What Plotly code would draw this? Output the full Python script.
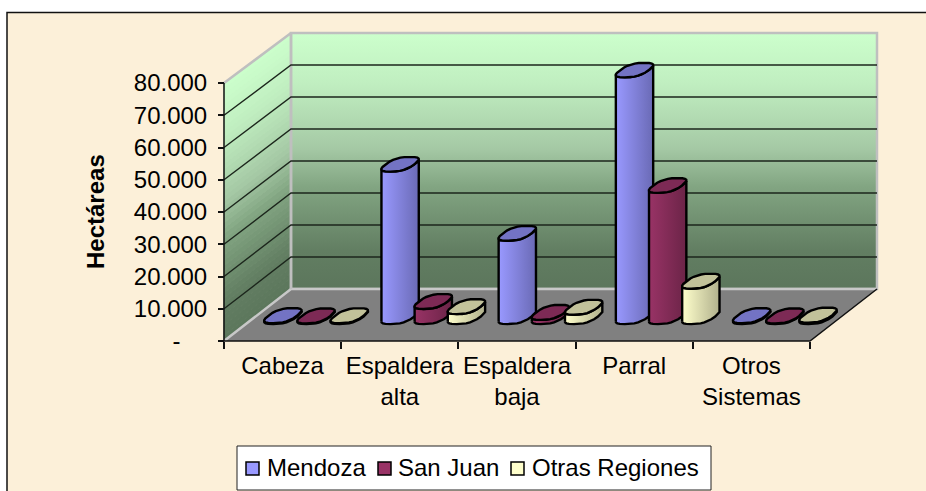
import math
import plotly.graph_objects as go

categories = ["Cabeza", "Espaldera<br>alta", "Espaldera<br>baja", "Parral", "Otros<br>Sistemas"]
mendoza = [300, 47400, 25900, 76700, 300]
san_juan = [200, 4700, 1300, 40800, 200]
otras = [250, 3100, 2900, 11000, 450]
series_names = ["Mendoza", "San Juan", "Otras Regiones"]
value_ticks = [0, 10000, 20000, 30000, 40000, 50000, 60000, 70000, 80000]
value_labels = ["-\u00a0\u00a0\u00a0\u00a0", "10.000", "20.000", "30.000", "40.000", "50.000", "60.000", "70.000", "80.000"]

W, H = 926, 491
X0, PX_CAT = 224.0, 117.2
Y0, PX_VAL = 341.0, 258.0 / 80000
DEPTH_DX = 67.0 / PX_CAT
DEPTH_DY = 52.0 / PX_VAL
FONT = "Liberation Sans, Arial, sans-serif"
INK = "#111111"
WALL_STOPS = [(0, (92, 118, 92)), (0.15, (98, 126, 98)), (0.4, (130, 165, 130)),
              (0.55, (165, 201, 165)), (0.8, (192, 238, 192)), (1, (204, 255, 204))]


def proj(cat, val, d=0.0):
    return cat + DEPTH_DX * d, val * (1 - 0.0078 * d) + DEPTH_DY * d


def wall_colour(t):
    for (t0, c0), (t1, c1) in zip(WALL_STOPS, WALL_STOPS[1:]):
        if t <= t1:
            f = (t - t0) / (t1 - t0)
            return "rgb(%d,%d,%d)" % tuple(round(c0[i] + (c1[i] - c0[i]) * f) for i in range(3))
    return "rgb(204,255,204)"


fig = go.Figure()


def poly(pts, **kw):
    xs = [p[0] for p in pts]
    ys = [p[1] for p in pts]
    fig.add_trace(go.Scatter(x=xs, y=ys, mode="lines", hoverinfo="skip", showlegend=False, **kw))


ncat = len(categories)
ymax = value_ticks[-1]
shapes = [dict(type="rect", xref="paper", yref="paper", x0=7 / W, x1=1.01, y0=-0.01, y1=1 - 12.5 / H,
               fillcolor="#FCF0D9", line=dict(color="#111111", width=1.5), layer="below")]

# left wall, sheared gradient strips
N = 48
for i in range(N):
    a, b = ymax * i / N, ymax * (i + 1) / N
    pts = [proj(0, a, 0), proj(0, a, 1), proj(0, b, 1), proj(0, b, 0)]
    col = wall_colour((i + 0.5) / N)
    path = "M " + " L ".join("%.5f,%.2f" % p for p in pts) + " Z"
    shapes.append(dict(type="path", path=path, xref="x", yref="y", fillcolor=col,
                       line=dict(color=col, width=1), layer="below"))

# back wall
back = [proj(0, 0, 1), proj(ncat, 0, 1), proj(ncat, ymax, 1), proj(0, ymax, 1), proj(0, 0, 1)]
poly(back, fill="toself", line=dict(color="#BFBFBF", width=2.5),
     fillgradient=dict(type="vertical", colorscale=[[t, wall_colour(t)] for t, _ in WALL_STOPS]))
# floor
floor = [proj(0, 0, 0), proj(ncat, 0, 0), proj(ncat, 0, 1), proj(0, 0, 1), proj(0, 0, 0)]
poly(floor, fill="toself", fillcolor="#808080", line=dict(width=0))
poly([proj(0, 0, 0), proj(0, 0, 1), proj(ncat, 0, 1)], line=dict(color="#C8C8C8", width=2.5))
poly([proj(0, 0, 0), proj(ncat, 0, 0), proj(ncat, 0, 1)], line=dict(color=INK, width=1.5))
# left wall upper edge + back left edge
poly([proj(0, ymax, 0), proj(0, ymax, 1), proj(0, 0, 1)], line=dict(color="#BFBFBF", width=2.5))
# gridlines
for v in value_ticks[1:-1]:
    poly([proj(0, v, 0), proj(0, v, 1), proj(ncat, v, 1)], line=dict(color="#1c261c", width=1.4))
# value axis line
poly([proj(0, 0, 0), proj(0, ymax, 0)], line=dict(color=INK, width=1.5))

# bars: blunt, low-polygon cylinders as in the original
WIDTH = 0.245
BDEPTH = 0.29
BAR_D = 0.47
BAR_DX = 0.017
OFFSETS = [-0.283, 0, 0.283]
styles = [
    ("#9999FF", "#6A6AB5", "#7373C4"),
    ("#993366", "#6B2447", "#7D2A55"),
    ("#FFFFCC", "#B0B08C", "#C2C29A"),
]
all_series = [mendoza, san_juan, otras]
RING = 24


def ring_pts(cx, val):
    pts = []
    for k in range(RING):
        t = 2 * math.pi * k / RING
        c, s = math.cos(t), math.sin(t)
        u = math.copysign(abs(c) ** 0.75, c)
        w = math.copysign(abs(s) ** 0.75, s)
        pts.append(proj(cx + WIDTH / 2 * u, val, BAR_D + BDEPTH / 2 * w))
    return pts


for c in range(ncat):
    for s, vals in enumerate(all_series):
        cx = c + 0.5 + OFFSETS[s] + BAR_DX
        v = vals[c]
        light, dark, cap = styles[s]
        base = ring_pts(cx, 0)
        top = ring_pts(cx, v)
        i_max = max(range(RING), key=lambda k: base[k][0])
        i_min = min(range(RING), key=lambda k: base[k][0])
        idx = [(i_min + k) % RING for k in range((i_max - i_min) % RING + 1)]
        front = [base[k] for k in idx]
        top_front = [top[k] for k in reversed(idx)]
        poly(front + top_front + [front[0]], fill="toself",
             fillgradient=dict(type="horizontal", colorscale=[[0, light], [1, dark]]),
             line=dict(color="#000000", width=2.4))
        poly(top + [top[0]], fill="toself", fillcolor=cap, line=dict(color="#000000", width=2.4))

# legend box, swatches and labels
legend_swatch_px = [(246, 259), (378, 391), (511, 524)]
legend_text_px = [268, 399, 533]
shapes.append(dict(type="rect", xref="paper", yref="paper", x0=237 / W, x1=711 / W, y0=1 - 490 / H, y1=1 - 446 / H,
                   fillcolor="white", line=dict(color="#222222", width=1), layer="above"))
annotations = [dict(text="<b>Hectáreas</b>", xref="paper", yref="paper", x=95 / W, y=1 - 212 / H,
                    xanchor="center", yanchor="middle", textangle=-90, showarrow=False,
                    font=dict(family=FONT, size=24, color="#000000"))]
for name, st, (sx0, sx1), tx in zip(series_names, styles, legend_swatch_px, legend_text_px):
    shapes.append(dict(type="rect", xref="paper", yref="paper", x0=sx0 / W, x1=sx1 / W, y0=1 - 475 / H, y1=1 - 462 / H,
                       fillcolor=st[0], line=dict(color="#000000", width=1.5), layer="above"))
    annotations.append(dict(text=name, xref="paper", yref="paper", x=tx / W, y=1 - 467 / H, xanchor="left",
                            yanchor="middle", showarrow=False, xshift=-3,
                            font=dict(family=FONT, size=24, color="#000000")))

fig.update_layout(
    width=W, height=H, autosize=False,
    margin=dict(l=0, r=0, t=0, b=0),
    paper_bgcolor="white", plot_bgcolor="rgba(0,0,0,0)",
    font=dict(family=FONT, size=24, color="#000000"),
    shapes=shapes,
    showlegend=False,
    annotations=annotations,
    xaxis=dict(range=[-X0 / PX_CAT, (W - X0) / PX_CAT], anchor="free", position=1 - Y0 / H, domain=[0, 1],
               tickmode="array", tickvals=[i + 0.5 for i in range(ncat)], ticktext=categories,
               ticks="", showgrid=False, zeroline=False, showline=False, tickfont=dict(family=FONT, size=24),
               ticklabelstandoff=8,
               minor=dict(tickmode="array", tickvals=list(range(ncat + 1)), ticks="outside", ticklen=7, tickcolor=INK, tickwidth=1.5, showgrid=False)),
    yaxis=dict(range=[-(H - Y0) / PX_VAL, Y0 / PX_VAL], anchor="free", position=X0 / W, domain=[0, 1],
               tickmode="array", tickvals=value_ticks, ticktext=value_labels, ticks="outside", ticklen=6,
               tickcolor=INK, tickwidth=1.5, showgrid=False, zeroline=False, showline=False,
               ticklabelstandoff=6, tickfont=dict(family=FONT, size=24)),
)
fig.write_html("out.html", config=dict(displayModeBar=False),
               post_script="document.body.style.margin='0';document.body.style.overflow='hidden';")
